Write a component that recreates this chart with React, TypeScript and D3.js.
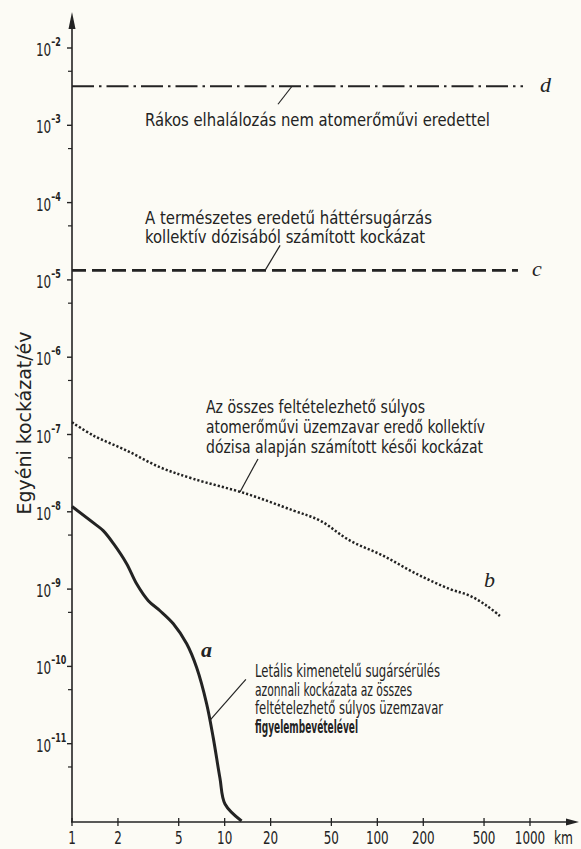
import React from 'react';
import * as d3 from 'd3';

const W = 581;
const H = 849;

// ---- data ----
const xTickValues = [1, 2, 5, 10, 20, 50, 100, 200, 500, 1000];
const yDecadeExps = [-2, -3, -4, -5, -6, -7, -8, -9, -10, -11];
const yMinorValues = [5e-3, 5e-4, 5e-5, 5e-6, 5e-7, 5e-8, 5e-9, 5e-10, 5e-11, 5e-12];

// curve a: immediate lethal risk
const aDist = [1, 1.41, 1.6, 1.87, 2.28, 2.65, 3.16, 3.77, 4.61, 5.64, 6.56, 7.62, 8.42, 9.31, 10.05, 12.9];
const aRisk = [1.17e-8, 6.97e-9, 5.7e-9, 3.87e-9, 2.13e-9, 1.17e-9, 7.08e-10, 5.25e-10, 3.56e-10, 1.96e-10, 9.6e-11, 3.28e-11, 1.19e-11, 3.6e-12, 1.66e-12, 1.0e-12];

// curve b: late risk from collective dose
const bDist = [1, 1.38, 2.28, 3.77, 6.23, 13.9, 28.1, 42.1, 66.2, 109, 181, 299, 404, 520, 635];
const bRisk = [1.44e-7, 9.7e-8, 6.2e-8, 3.77e-8, 2.67e-8, 1.71e-8, 1.04e-8, 7.7e-9, 4.24e-9, 2.71e-9, 1.57e-9, 1.0e-9, 8.2e-10, 6.1e-10, 4.5e-10];

// horizontal reference levels
const cRisk = 1.33e-5;
const cEndKm = 834;
const dRisk = 3.2e-3;
const dEndKm = 900;

const INK = '#232323';
const BG = '#fcfbf5';
const FONT = "'DejaVu Sans Condensed', 'Liberation Sans Narrow', 'DejaVu Sans', sans-serif";
const SERIF = "'Liberation Serif', 'DejaVu Serif', serif";

const x = d3.scaleLog().domain([1, 1000]).range([72, 530]);
const y = d3.scaleLog().domain([1e-12, 1e-2]).range([821, 48]);

const lineGen = d3
  .line<[number, number]>()
  .x((d) => x(d[0]))
  .y((d) => y(d[1]))
  .curve(d3.curveCatmullRom.alpha(0.5));

function interp(dist: number[], risk: number[], xv: number) {
  for (let i = 0; i < dist.length - 1; i++) {
    if (xv >= dist[i] && xv <= dist[i + 1]) {
      const t = (Math.log(xv) - Math.log(dist[i])) / (Math.log(dist[i + 1]) - Math.log(dist[i]));
      return Math.exp(Math.log(risk[i]) + t * (Math.log(risk[i + 1]) - Math.log(risk[i])));
    }
  }
  return risk[risk.length - 1];
}

function T(props: { x: number; y: number; w?: number; size?: number; weight?: number | string; children: React.ReactNode; anchor?: string }) {
  const { x: tx, y: ty, w, size = 18, weight = 400, anchor = 'start' } = props;
  return (
    <text
      x={tx}
      y={ty}
      fontFamily={FONT}
      fontSize={size}
      fontWeight={weight}
      fill={INK}
      textAnchor={anchor}
      {...(w ? { textLength: w, lengthAdjust: 'spacingAndGlyphs' } : {})}
    >
      {props.children}
    </text>
  );
}

export default function App() {
  const aPts = aDist.map((d, i) => [d, aRisk[i]] as [number, number]);
  const bPts = bDist.map((d, i) => [d, bRisk[i]] as [number, number]);
  const yAxisBottom = y(1e-12);
  const axisX = x(1);

  const dLeadX = x(27.6), dLeadY = y(dRisk);
  const cLeadX = x(18.4), cLeadY = y(cRisk);
  const bLeadX = x(12.6), bLeadY = y(interp(bDist, bRisk, 12.6));
  const aLeadX = x(8.0), aLeadY = y(interp(aDist, aRisk, 8.0));

  return (
    <svg width={W} height={H} style={{ position: 'absolute', left: 0, top: 0 }}>
      <rect x={0} y={0} width={W} height={H} fill={BG} />

      {/* y axis */}
      <line x1={axisX} x2={axisX} y1={yAxisBottom + 1} y2={20} stroke={INK} strokeWidth={1.6} />
      <path d={`M${axisX},12 L${axisX - 3.5},29 L${axisX + 3.5},29 Z`} fill={INK} />
      {yDecadeExps.map((e) => (
        <g key={e}>
          <line x1={axisX - 5} x2={axisX} y1={y(Math.pow(10, e))} y2={y(Math.pow(10, e))} stroke={INK} strokeWidth={1.4} />
          <g transform={`translate(36, ${y(Math.pow(10, e)) + 8}) scale(0.74, 1)`}>
            <text x={0} y={0} fontFamily={FONT} fontSize={18} fill={INK}>
              10
              <tspan dy={-10} fontSize={12} fontWeight={700}>{'\u2013' + String(-e)}</tspan>
            </text>
          </g>
        </g>
      ))}
      {yMinorValues.map((v) => (
        <line key={v} x1={axisX - 4} x2={axisX} y1={y(v)} y2={y(v)} stroke={INK} strokeWidth={1.2} />
      ))}
      <g transform={`translate(31, 423) rotate(-90)`}>
        <text x={0} y={0} fontFamily={FONT} fontSize={19} fill={INK} textAnchor="middle" textLength={183} lengthAdjust="spacingAndGlyphs">
          Egyéni kockázat/év
        </text>
      </g>

      {/* x axis */}
      <line x1={axisX - 1} x2={570} y1={yAxisBottom + 1} y2={yAxisBottom + 1} stroke={INK} strokeWidth={1.6} />
      <path d={`M579,${yAxisBottom + 1} L566,${yAxisBottom - 2.5} L566,${yAxisBottom + 4.5} Z`} fill={INK} />
      {xTickValues.map((v) => (
        <g key={v}>
          <line x1={x(v)} x2={x(v)} y1={yAxisBottom - 3} y2={yAxisBottom + 5} stroke={INK} strokeWidth={1.3} />
          <text x={x(v)} y={844} fontFamily={FONT} fontSize={18} fill={INK} textAnchor="middle" textLength={String(v).length * 7.6} lengthAdjust="spacingAndGlyphs">
            {String(v)}
          </text>
        </g>
      ))}
      <text x={554} y={844} fontFamily={FONT} fontSize={18} fill={INK} textLength={19} lengthAdjust="spacingAndGlyphs">
        km
      </text>

      {/* d line */}
      <line x1={axisX} x2={x(dEndKm)} y1={y(dRisk)} y2={y(dRisk)} stroke={INK} strokeWidth={2.2} strokeDasharray="22 5 2.5 5" />
      <text x={540} y={92} fontFamily={SERIF} fontStyle="italic" fontSize={22} fill={INK}>d</text>
      <line x1={dLeadX} y1={dLeadY} x2={dLeadX - 14} y2={dLeadY + 18} stroke={INK} strokeWidth={1.2} />
      <T x={145} y={126} w={345}>Rákos elhalálozás nem atomerőművi eredettel</T>

      {/* c line */}
      <line x1={axisX} x2={x(cEndKm)} y1={y(cRisk)} y2={y(cRisk)} stroke={INK} strokeWidth={2.6} strokeDasharray="14 6" />
      <text x={532} y={276} fontFamily={SERIF} fontStyle="italic" fontSize={22} fill={INK}>c</text>
      <line x1={cLeadX} y1={cLeadY} x2={cLeadX + 15} y2={cLeadY - 25} stroke={INK} strokeWidth={1.2} />
      <T x={145} y={224} w={287}>A természetes eredetű háttérsugárzás</T>
      <T x={145} y={243} w={280}>kollektív dózisából számított kockázat</T>

      {/* b curve */}
      <path d={lineGen(bPts) || ''} fill="none" stroke={INK} strokeWidth={2.5} strokeDasharray="2.2 2" />
      <text x={484} y={587} fontFamily={SERIF} fontStyle="italic" fontSize={22} fill={INK}>b</text>
      <line x1={bLeadX} y1={bLeadY} x2={bLeadX + 18} y2={bLeadY - 33} stroke={INK} strokeWidth={1.2} />
      <T x={206} y={413} w={219}>Az összes feltételezhető súlyos</T>
      <T x={206} y={433} w={279}>atomerőművi üzemzavar eredő kollektív</T>
      <T x={206} y={453} w={277}>dózisa alapján számított késői kockázat</T>

      {/* a curve */}
      <path d={lineGen(aPts) || ''} fill="none" stroke={INK} strokeWidth={3} strokeLinejoin="round" />
      <text x={201} y={657} fontFamily={SERIF} fontStyle="italic" fontWeight={700} fontSize={22} fill={INK}>a</text>
      <line x1={aLeadX} y1={aLeadY} x2={aLeadX + 36} y2={aLeadY - 41} stroke={INK} strokeWidth={1.2} />
      <T x={255} y={677} w={185} size={17}>Letális kimenetelű sugársérülés</T>
      <T x={255} y={695.5} w={157} size={17}>azonnali kockázata az összes</T>
      <T x={255} y={714} w={188} size={17}>feltételezhető súlyos üzemzavar</T>
      <T x={255} y={732.5} w={103} size={17} weight={700}>figyelembevételével</T>
    </svg>
  );
}
